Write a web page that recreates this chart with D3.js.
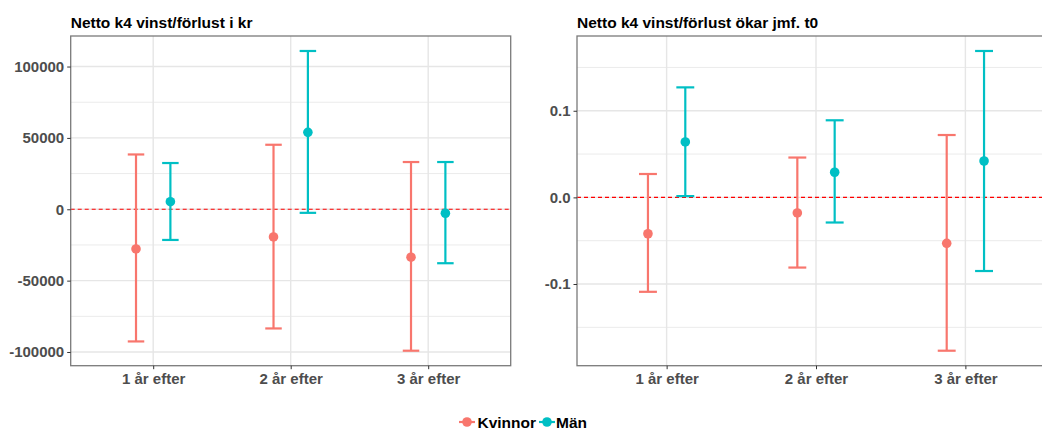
<!DOCTYPE html>
<html>
<head>
<meta charset="utf-8">
<script src="https://cdn.jsdelivr.net/npm/d3@7"></script>
<style>
body { margin: 0; background: #fff; }
svg { display: block; font-family: "Liberation Sans", Arial, sans-serif; }
</style>
</head>
<body>
<div class="chart"></div>
<script>
var categories = ["1 år efter", "2 år efter", "3 år efter"];
var groups = ["Kvinnor", "Män"];
var colors = ["#F8766D", "#00BFC4"];

// panel 1: kronor
var krEst  = { "Kvinnor": [-27800, -19400, -33600], "Män": [5300, 53900, -2800] };
var krLow  = { "Kvinnor": [-92600, -83500, -99100], "Män": [-21500, -2500, -37800] };
var krHigh = { "Kvinnor": [38400, 45200, 33100],    "Män": [32400, 110900, 33100] };
var krTicks = [-100000, -50000, 0, 50000, 100000];
var krMinor = [-75000, -25000, 25000, 75000];

// panel 2: relative change
var relEst  = { "Kvinnor": [-0.042, -0.018, -0.053], "Män": [0.064, 0.029, 0.042] };
var relLow  = { "Kvinnor": [-0.109, -0.081, -0.177], "Män": [0.0015, -0.029, -0.085] };
var relHigh = { "Kvinnor": [0.027, 0.046, 0.072],    "Män": [0.127, 0.089, 0.169] };
var relTicks = [-0.1, 0, 0.1];
var relMinor = [-0.15, -0.05, 0.05, 0.15];

var svg = d3.select(".chart").append("svg")
            .attr("width", 1042)
            .attr("height", 430);

function rows(est, low, high) {
  var out = [];
  groups.forEach(function(g, gi) {
    categories.forEach(function(c, i) {
      out.push({ group: g, gi: gi, cat: c, est: est[g][i], low: low[g][i], high: high[g][i] });
    });
  });
  return out;
}

// ggplot style: plain hyphen for negatives
function hyphen(f) {
  return function(d){ return f(d).replace("\u2212", "-"); };
}

function drawPanel(opt) {
  var data = rows(opt.est, opt.low, opt.high);
  var lo = d3.min(data, function(d){ return d.low; });
  var hi = d3.max(data, function(d){ return d.high; });
  var pad = (hi - lo) * 0.05;

  var x = d3.scalePoint().domain(categories).range([opt.left, opt.right]).padding(0.6);
  var step = x.step();
  var dodge = d3.scalePoint().domain(groups).range([-0.125 * step, 0.125 * step]);
  var y = d3.scaleLinear().domain([lo - pad, hi + pad]).range([opt.bottom, opt.top]);
  var capW = 0.06 * step;

  var g = svg.append("g");

  // grid
  g.selectAll(".minor").data(opt.minor).enter().append("line")
   .attr("x1", opt.left).attr("x2", opt.right)
   .attr("y1", function(d){ return y(d); }).attr("y2", function(d){ return y(d); })
   .attr("stroke", "#ebebeb").attr("stroke-width", 1);
  g.selectAll(".major").data(opt.ticks).enter().append("line")
   .attr("x1", opt.left).attr("x2", opt.right)
   .attr("y1", function(d){ return y(d); }).attr("y2", function(d){ return y(d); })
   .attr("stroke", "#e6e6e6").attr("stroke-width", 1.4);
  g.selectAll(".vgrid").data(categories).enter().append("line")
   .attr("x1", function(d){ return x(d); }).attr("x2", function(d){ return x(d); })
   .attr("y1", opt.top).attr("y2", opt.bottom)
   .attr("stroke", "#e6e6e6").attr("stroke-width", 1.4);

  // zero line
  g.append("line")
   .attr("x1", opt.left).attr("x2", opt.right)
   .attr("y1", y(0)).attr("y2", y(0))
   .attr("stroke", "#ff0000").attr("stroke-width", 1.1)
   .attr("stroke-dasharray", "4,3");

  // error bars
  var bars = g.selectAll(".err").data(data).enter().append("g")
              .attr("transform", function(d){ return "translate(" + (x(d.cat) + dodge(d.group)) + ",0)"; })
              .attr("stroke", function(d){ return colors[d.gi]; })
              .attr("stroke-width", 2.2);
  bars.append("line").attr("x1", 0).attr("x2", 0)
      .attr("y1", function(d){ return y(d.low); }).attr("y2", function(d){ return y(d.high); });
  bars.append("line").attr("x1", -capW).attr("x2", capW)
      .attr("y1", function(d){ return y(d.low); }).attr("y2", function(d){ return y(d.low); });
  bars.append("line").attr("x1", -capW).attr("x2", capW)
      .attr("y1", function(d){ return y(d.high); }).attr("y2", function(d){ return y(d.high); });

  g.selectAll(".pt").data(data).enter().append("circle")
   .attr("cx", function(d){ return x(d.cat) + dodge(d.group); })
   .attr("cy", function(d){ return y(d.est); })
   .attr("r", 4.8)
   .attr("fill", function(d){ return colors[d.gi]; });

  // border
  g.append("rect")
   .attr("x", opt.left).attr("y", opt.top)
   .attr("width", opt.right - opt.left).attr("height", opt.bottom - opt.top)
   .attr("fill", "none").attr("stroke", "#7a7a7a").attr("stroke-width", 1.3);

  // axes
  var yAxis = g.append("g").attr("transform", "translate(" + opt.left + ",0)")
               .call(d3.axisLeft(y).tickValues(opt.ticks).tickSize(3.5).tickPadding(3).tickFormat(hyphen(opt.fmt)));
  var xAxis = g.append("g").attr("transform", "translate(0," + opt.bottom + ")")
               .call(d3.axisBottom(x).tickSize(3.5).tickPadding(4));
  [yAxis, xAxis].forEach(function(a) {
    a.select(".domain").remove();
    a.selectAll(".tick line").attr("stroke", "#333").attr("stroke-width", 1);
    a.selectAll("text").attr("fill", "#4d4d4d").attr("font-size", "15px")
     .attr("font-weight", "bold").attr("font-family", "Liberation Sans, Arial, sans-serif");
  });

  g.append("text")
   .attr("x", opt.left).attr("y", 28)
   .attr("font-size", "15.5px").attr("font-weight", "bold").attr("fill", "#000")
   .text(opt.title);
}

drawPanel({
  title: "Netto k4 vinst/förlust i kr",
  est: krEst, low: krLow, high: krHigh,
  ticks: krTicks, minor: krMinor,
  fmt: d3.format("d"),
  left: 70.7, right: 510.7, top: 36, bottom: 365.7
});

drawPanel({
  title: "Netto k4 vinst/förlust ökar jmf. t0",
  est: relEst, low: relLow, high: relHigh,
  ticks: relTicks, minor: relMinor,
  fmt: d3.format(".1f"),
  left: 577, right: 1055, top: 36, bottom: 365.7
});

// legend
var legend = svg.append("g").attr("transform", "translate(0,422)");
var legX = [467, 547];
groups.forEach(function(gname, i) {
  var item = legend.append("g").attr("transform", "translate(" + legX[i] + ",0)");
  item.append("line").attr("x1", -8).attr("x2", 8).attr("y1", 0).attr("y2", 0)
      .attr("stroke", colors[i]).attr("stroke-width", 2.2);
  item.append("circle").attr("r", 4.8).attr("fill", colors[i]);
  item.append("text").attr("x", i === 0 ? 10.5 : 9).attr("y", 5.5)
      .attr("font-size", "15.5px").attr("font-weight", "bold").attr("fill", "#000")
      .text(gname);
});
</script>
</body>
</html>
